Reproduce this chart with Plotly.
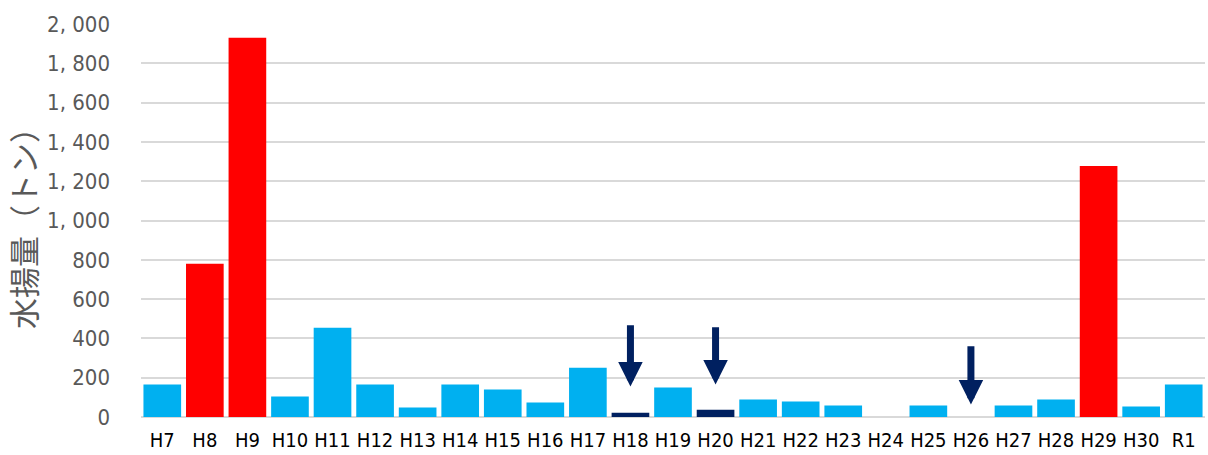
import plotly.graph_objects as go

# Annual landings (tonnes) by fiscal year
years = ["H7", "H8", "H9", "H10", "H11", "H12", "H13", "H14", "H15", "H16",
         "H17", "H18", "H19", "H20", "H21", "H22", "H23", "H24", "H25", "H26",
         "H27", "H28", "H29", "H30", "R1"]
landings = [165, 780, 1930, 104, 454, 165, 48, 165, 140, 74,
            251, 21, 150, 37, 89, 79, 58, 0, 58, 0,
            58, 89, 1277, 53, 165]

# Year groups: peak years in red, low years in navy, the rest in blue
peak_years = ["H8", "H9", "H29"]
low_years = ["H18", "H20"]

# Arrows pointing at low years: (year, tip value, tail value)
arrow_years = ["H18", "H20", "H26"]
arrow_tips = [155, 165, 63]
arrow_tails = [475, 465, 368]

y_tickvals = [0, 200, 400, 600, 800, 1000, 1200, 1400, 1600, 1800, 2000]
y_ticktext = ["0", "200", "400", "600", "800", "1, 000", "1, 200", "1, 400",
              "1, 600", "1, 800", "2, 000"]

BLUE = "#00B0F0"
RED = "#FF0000"
NAVY = "#002060"
NARROW = "DejaVu Sans Condensed, Noto Sans CJK JP, sans-serif"

colors = [RED if y in peak_years else NAVY if y in low_years else BLUE for y in years]

fig = go.Figure(go.Bar(x=years, y=landings, marker=dict(color=colors, line=dict(width=0)),
                       hoverinfo="x+y"))

for yr, tip, tail in zip(arrow_years, arrow_tips, arrow_tails):
    fig.add_annotation(x=yr, y=tip, xref="x", yref="y", ax=0, ay=tail, axref="pixel",
                       ayref="y", showarrow=True, arrowhead=2, arrowwidth=7,
                       arrowsize=0.7, arrowcolor=NAVY, text="", standoff=0)

fig.update_layout(
    width=1208, height=455,
    margin=dict(l=141, r=3, t=24, b=36),
    plot_bgcolor="white", paper_bgcolor="white",
    bargap=0.115,
    showlegend=False,
    font=dict(family=NARROW),
    xaxis=dict(showgrid=False, showline=False, ticks="",
               tickfont=dict(size=20, color="#000000", family=NARROW),
               ticklabelstandoff=9),
    yaxis=dict(range=[0, 2000], tickvals=y_tickvals, ticktext=y_ticktext,
               showgrid=True, gridcolor="#D9D9D9", gridwidth=1.5,
               zeroline=True, zerolinecolor="#D9D9D9", zerolinewidth=1.5,
               showline=False, ticks="", ticklabelstandoff=30,
               tickfont=dict(size=22, color="#595959", family=NARROW),
               title=dict(text="水揚量（トン）", standoff=10,
                          font=dict(size=31, color="#595959",
                                    family="Noto Sans CJK JP, sans-serif"))),
)

fig.write_html("out.html")
